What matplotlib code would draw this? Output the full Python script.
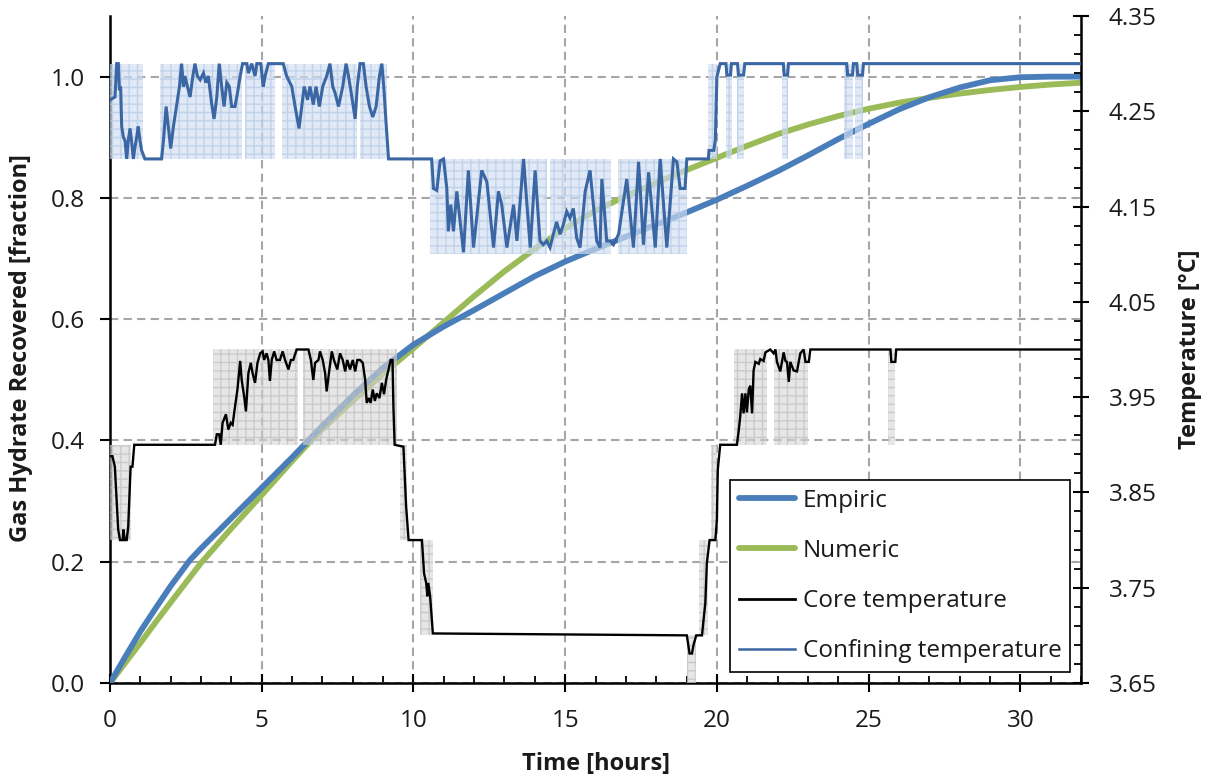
import matplotlib
matplotlib.use("Agg")
import matplotlib.pyplot as plt
from matplotlib.lines import Line2D
from matplotlib.ticker import FixedLocator, MultipleLocator, FormatStrFormatter

plt.rcParams['font.family'] = ['Open Sans', 'DejaVu Sans']
plt.rcParams['hatch.linewidth'] = 1.0

# ---------------- recovery curves (left axis) ----------------
emp_t = [0, 0.5, 1, 1.5, 2, 2.64, 3, 4, 5, 6, 6.5, 7, 8, 9, 10, 10.7, 11, 12, 13, 14,
         15, 16, 17, 18, 19, 20, 21, 22, 23, 24, 25, 26, 27, 28, 29, 30, 31, 32]
emp_frac = [0.0, 0.043, 0.085, 0.123, 0.16, 0.203, 0.222, 0.272, 0.322, 0.372, 0.398,
            0.424, 0.474, 0.52, 0.558, 0.579, 0.588, 0.615, 0.643, 0.671, 0.695, 0.716,
            0.736, 0.756, 0.776, 0.797, 0.82, 0.844, 0.87, 0.897, 0.922, 0.946, 0.966,
            0.982, 0.994, 0.999, 1.0, 1.0]

num_t = [0, 0.5, 1, 1.5, 2, 3, 4, 5, 6, 6.5, 7, 8, 9, 10, 11, 12, 13, 14, 15,
         16, 17, 18, 19, 20, 21, 22, 23, 24, 25, 26, 27, 28, 29, 30, 31, 32]
num_frac = [0.0, 0.033, 0.066, 0.1, 0.133, 0.198, 0.255, 0.31, 0.366, 0.393, 0.419,
            0.465, 0.51, 0.552, 0.595, 0.638, 0.679, 0.716, 0.75, 0.779, 0.803, 0.825,
            0.846, 0.866, 0.886, 0.905, 0.921, 0.935, 0.947, 0.957, 0.965, 0.972,
            0.978, 0.983, 0.987, 0.99]

# ---------------- temperatures (right axis, degC) ----------------
core_t = [0.0, 0.08, 0.16, 0.22, 0.27, 0.33, 0.42, 0.44, 0.49, 0.55, 0.60, 0.68, 0.74, 0.80,
          3.46, 3.52, 3.60, 3.65, 3.71, 3.82, 3.90, 3.98, 4.04, 4.12, 4.20, 4.29, 4.34, 4.42,
          4.48, 4.56, 4.64, 4.70, 4.78, 4.86, 4.95, 5.03, 5.08, 5.16, 5.22, 5.27, 5.33, 5.41,
          5.49, 5.60, 5.69, 5.77, 5.88, 5.96, 6.04, 6.15, 6.54, 6.62, 6.70, 6.76, 6.87, 6.92,
          7.01, 7.09, 7.14, 7.23, 7.31, 7.38, 7.49, 7.58, 7.67, 7.75, 7.82, 7.91, 8.00, 8.08,
          8.15, 8.24, 8.33, 8.41, 8.46, 8.53, 8.59, 8.66, 8.73, 8.79, 8.88, 8.96, 9.03, 9.10,
          9.18, 9.25, 9.31, 9.34, 9.38, 9.67, 9.76, 9.84, 10.28, 10.35, 10.42, 10.46, 10.49,
          10.55, 10.64, 19.01, 19.10, 19.18, 19.23, 19.32, 19.51, 19.56, 19.62, 19.67, 19.76,
          19.95, 20.00, 20.03, 20.11, 20.66, 20.72, 20.77, 20.83, 20.88, 20.94, 20.99, 21.05,
          21.10, 21.16, 21.21, 21.27, 21.38, 21.43, 21.54, 21.60, 21.76, 21.87, 21.93, 21.98,
          22.09, 22.20, 22.26, 22.31, 22.37, 22.42, 22.53, 22.64, 22.75, 22.86, 22.92, 23.03,
          23.08, 25.72, 25.75, 25.88, 25.91, 32.0]
core_T = [3.888, 3.888, 3.877, 3.842, 3.811, 3.800, 3.800, 3.811, 3.800, 3.800, 3.814, 3.877,
          3.877, 3.900, 3.900, 3.911, 3.911, 3.900, 3.923, 3.932, 3.916, 3.923, 3.921, 3.940,
          3.958, 3.988, 3.968, 3.951, 3.935, 3.975, 3.986, 3.975, 3.965, 3.986, 3.996, 3.998,
          3.989, 3.996, 3.989, 3.967, 3.989, 3.998, 3.989, 3.989, 3.998, 3.989, 3.979, 3.989,
          3.989, 4.000, 4.000, 3.989, 3.968, 3.986, 3.989, 3.998, 3.989, 3.975, 3.956, 3.979,
          3.998, 3.989, 3.979, 3.996, 3.989, 3.977, 3.989, 3.979, 3.989, 3.977, 3.989, 3.989,
          3.986, 3.968, 3.944, 3.949, 3.944, 3.958, 3.946, 3.954, 3.949, 3.965, 3.953, 3.968,
          3.979, 3.989, 3.989, 3.940, 3.900, 3.898, 3.835, 3.800, 3.800, 3.765, 3.755, 3.741,
          3.755, 3.741, 3.702, 3.700, 3.681, 3.681, 3.690, 3.700, 3.700, 3.716, 3.734, 3.776,
          3.800, 3.800, 3.821, 3.874, 3.900, 3.900, 3.915, 3.930, 3.954, 3.933, 3.954, 3.934,
          3.958, 3.962, 3.933, 3.978, 3.987, 3.985, 3.990, 3.988, 3.997, 4.000, 3.996, 4.000,
          3.987, 3.977, 3.997, 3.988, 3.987, 3.966, 3.987, 3.978, 3.977, 3.996, 4.000, 3.987,
          3.987, 4.000, 4.000, 3.987, 3.987, 4.000, 4.000]

conf_t = [0.0, 0.165, 0.22, 0.275, 0.31, 0.35, 0.385, 0.44, 0.495, 0.55, 0.60, 0.66, 0.71,
          0.77, 0.82, 0.88, 0.93, 0.99, 1.04, 1.15, 1.70, 1.76, 1.85, 1.92, 2.00, 2.09, 2.20,
          2.29, 2.36, 2.42, 2.47, 2.55, 2.64, 2.73, 2.80, 2.88, 2.97, 3.08, 3.16, 3.24, 3.35,
          3.43, 3.52, 3.60, 3.68, 3.76, 3.85, 3.93, 4.01, 4.12, 4.20, 4.29, 4.37, 4.51, 4.56,
          4.67, 4.78, 4.84, 4.97, 5.05, 5.11, 5.22, 5.71, 5.82, 5.99, 6.10, 6.23, 6.32, 6.40,
          6.51, 6.59, 6.70, 6.79, 6.90, 7.01, 7.14, 7.25, 7.34, 7.42, 7.53, 7.67, 7.78, 7.86,
          7.97, 8.08, 8.15, 8.24, 8.35, 8.44, 8.55, 8.66, 8.77, 8.88, 8.96, 9.03, 9.10, 9.18,
          10.60, 10.66, 10.77, 10.88, 10.99, 11.10, 11.15, 11.23, 11.32, 11.43, 11.54, 11.65,
          11.81, 11.98, 12.25, 12.42, 12.64, 12.80, 12.91, 13.08, 13.30, 13.41, 13.63, 13.74,
          13.85, 14.01, 14.17, 14.28, 14.39, 14.50, 14.61, 14.72, 14.83, 14.94, 15.05, 15.16,
          15.27, 15.38, 15.49, 15.66, 15.82, 15.93, 16.04, 16.15, 16.21, 16.37, 16.48, 16.59,
          16.76, 17.03, 17.25, 17.42, 17.58, 17.75, 17.97, 18.13, 18.35, 18.57, 18.68, 18.79,
          18.95, 19.01, 19.72, 19.74, 19.90, 19.95, 20.00, 20.11, 20.30, 20.33, 20.45, 20.48,
          20.68, 20.71, 20.88, 20.92, 22.19, 22.22, 22.33, 22.36, 24.28, 24.31, 24.47, 24.50,
          24.61, 24.64, 24.80, 24.83, 32.0]
conf_T = [4.262, 4.265, 4.300, 4.300, 4.272, 4.276, 4.234, 4.223, 4.219, 4.200, 4.219, 4.232,
          4.219, 4.200, 4.212, 4.223, 4.234, 4.219, 4.209, 4.200, 4.200, 4.219, 4.255, 4.234,
          4.211, 4.234, 4.257, 4.276, 4.300, 4.276, 4.287, 4.276, 4.265, 4.287, 4.300, 4.287,
          4.283, 4.290, 4.280, 4.287, 4.258, 4.242, 4.265, 4.300, 4.276, 4.255, 4.280, 4.276,
          4.255, 4.255, 4.269, 4.287, 4.300, 4.300, 4.290, 4.300, 4.287, 4.300, 4.300, 4.276,
          4.287, 4.300, 4.300, 4.287, 4.276, 4.255, 4.232, 4.255, 4.276, 4.262, 4.276, 4.257,
          4.276, 4.255, 4.276, 4.287, 4.300, 4.276, 4.269, 4.255, 4.276, 4.300, 4.287, 4.265,
          4.242, 4.276, 4.300, 4.300, 4.276, 4.255, 4.244, 4.255, 4.287, 4.300, 4.272, 4.237,
          4.200, 4.200, 4.169, 4.167, 4.198, 4.200, 4.169, 4.124, 4.152, 4.124, 4.166, 4.134,
          4.102, 4.188, 4.107, 4.188, 4.176, 4.107, 4.166, 4.152, 4.107, 4.152, 4.114, 4.200,
          4.152, 4.107, 4.188, 4.114, 4.110, 4.114, 4.107, 4.121, 4.134, 4.121, 4.131, 4.145,
          4.138, 4.148, 4.117, 4.107, 4.166, 4.188, 4.152, 4.114, 4.107, 4.179, 4.114, 4.114,
          4.110, 4.121, 4.179, 4.107, 4.197, 4.110, 4.186, 4.107, 4.200, 4.107, 4.200, 4.197,
          4.169, 4.169, 4.200, 4.200, 4.209, 4.209, 4.220, 4.286, 4.300, 4.300, 4.288, 4.288,
          4.300, 4.300, 4.288, 4.288, 4.300, 4.300, 4.288, 4.288, 4.300, 4.300, 4.288, 4.288,
          4.300, 4.300, 4.288, 4.288, 4.300, 4.300]

# sensor scatter ranges: (start h, end h, low degC, high degC)
core_band_t0 = [0.0, 3.40, 6.37, 9.55, 10.20, 19.00, 19.40, 19.80, 20.55, 21.87, 25.65]
core_band_t1 = [0.70, 6.20, 9.45, 9.80, 10.66, 19.30, 19.70, 20.00, 21.65, 23.00, 25.88]
core_band_lo = [3.80, 3.90, 3.90, 3.80, 3.70, 3.65, 3.70, 3.80, 3.90, 3.90, 3.90]
core_band_hi = [3.90, 4.00, 4.00, 3.90, 3.80, 3.70, 3.80, 3.90, 4.00, 4.00, 4.00]

conf_band_t0 = [0.0, 1.65, 4.45, 5.67, 8.24, 10.55, 14.50, 16.75, 19.70, 20.30, 20.65,
                22.15, 24.20, 24.55]
conf_band_t1 = [1.10, 4.35, 5.44, 8.14, 9.13, 14.40, 16.50, 19.00, 20.00, 20.50, 20.90,
                22.35, 24.50, 24.80]
conf_band_lo = [4.20, 4.20, 4.20, 4.20, 4.20, 4.10, 4.10, 4.10, 4.20, 4.20, 4.20,
                4.20, 4.20, 4.20]
conf_band_hi = [4.30, 4.30, 4.30, 4.30, 4.30, 4.20, 4.20, 4.20, 4.30, 4.30, 4.30,
                4.30, 4.30, 4.30]

x_ticks = [0, 5, 10, 15, 20, 25, 30]
frac_ticks = [0.0, 0.2, 0.4, 0.6, 0.8, 1.0]
temp_ticks = [3.65, 3.75, 3.85, 3.95, 4.05, 4.15, 4.25, 4.35]

labels = ['Empiric', 'Numeric', 'Core temperature', 'Confining temperature']

# ---------------- styling ----------------
C_EMP = '#4A7EBB'
C_NUM = '#9BBB59'
C_CORE = '#000000'
C_CONF = '#3A66A3'
C_GRID = '#A6A6A6'
TXT = '#1A1A1A'
FS = 17.5
FS_LAB = 17

fig = plt.figure(figsize=(12.08, 7.78), dpi=100)
ax = fig.add_axes([110 / 1208, 1 - 683 / 778, 971 / 1208, 667 / 778])
ax2 = ax.twinx()

ax.set_xlim(0, 32)
ax.set_ylim(0, 1.1)
ax2.set_ylim(3.65, 4.35)

ax.grid(True, which='major', color=C_GRID, linestyle=(0, (4, 2.5)), linewidth=1.5)
ax.set_axisbelow(True)

ax.plot(emp_t, emp_frac, color=C_EMP, lw=4.2, solid_capstyle='round', zorder=3)
ax.plot(num_t, num_frac, color=C_NUM, lw=4.2, solid_capstyle='round', zorder=2)

for t0, t1, lo, hi in zip(core_band_t0, core_band_t1, core_band_lo, core_band_hi):
    ax2.fill_between([t0, t1], lo, hi, facecolor='#D6D6D6', edgecolor='#B8B8B8',
                     hatch='++', linewidth=0, alpha=0.6, zorder=1)
for t0, t1, lo, hi in zip(conf_band_t0, conf_band_t1, conf_band_lo, conf_band_hi):
    ax2.fill_between([t0, t1], lo, hi, facecolor='#D0DEF0', edgecolor='#B0C8E6',
                     hatch='++', linewidth=0, alpha=0.65, zorder=1)

ax2.plot(core_t, core_T, color=C_CORE, lw=1.7, zorder=4, solid_joinstyle='miter')
ax2.plot(conf_t, conf_T, color=C_CONF, lw=2.2, zorder=4, solid_joinstyle='miter')

# spines
for a in (ax, ax2):
    a.spines['top'].set_visible(False)
    for s in ('left', 'right', 'bottom'):
        a.spines[s].set_linewidth(1.8)
        a.spines[s].set_color('black')
ax2.spines['left'].set_visible(False)
ax2.spines['bottom'].set_visible(False)
ax.spines['right'].set_visible(False)

# ticks
ax.xaxis.set_major_locator(FixedLocator(x_ticks))
ax.xaxis.set_minor_locator(MultipleLocator(1))
ax.yaxis.set_major_locator(FixedLocator(frac_ticks))
ax.yaxis.set_major_formatter(FormatStrFormatter('%.1f'))
ax.tick_params(axis='x', which='major', direction='inout', length=13, width=1.5,
               pad=12, labelsize=FS, labelcolor=TXT)
ax.tick_params(axis='x', which='minor', direction='in', length=5, width=1.3)
ax.tick_params(axis='y', which='major', direction='out', length=7, width=1.5,
               pad=11, labelsize=FS, labelcolor=TXT)

ax2.yaxis.set_major_locator(FixedLocator(temp_ticks))
ax2.yaxis.set_minor_locator(FixedLocator([3.65 + 0.02 * k for k in range(36)]))
ax2.yaxis.set_major_formatter(FormatStrFormatter('%.2f'))
ax2.tick_params(axis='y', which='major', direction='inout', length=12, width=1.5,
                pad=14, labelsize=FS, labelcolor=TXT)
ax2.tick_params(axis='y', which='minor', direction='in', length=5, width=1.3)

ax.set_xlabel('Time [hours]', fontsize=FS_LAB, fontweight='bold', color=TXT)
ax.set_ylabel('Gas Hydrate Recovered [fraction]', fontsize=FS_LAB, fontweight='bold',
              color=TXT)
ax2.set_ylabel('Temperature [°C]', fontsize=FS_LAB, fontweight='bold', color=TXT)
ax.xaxis.set_label_coords(0.5, -0.1034)
ax.yaxis.set_label_coords(-0.079, 0.502)
ax2.yaxis.set_label_coords(1.100, 0.50)

handles = [
    Line2D([], [], color=C_EMP, lw=4.2, solid_capstyle='round'),
    Line2D([], [], color=C_NUM, lw=4.2, solid_capstyle='round'),
    Line2D([], [], color=C_CORE, lw=2.0),
    Line2D([], [], color=C_CONF, lw=1.8),
]
leg = ax2.legend(handles, labels, loc='lower right', bbox_to_anchor=(0.9887, 0.0165),
                 borderaxespad=0, frameon=True, fancybox=False, fontsize=FS,
                 handlelength=2.3, handletextpad=0.33, labelspacing=1.08,
                 borderpad=0.35, framealpha=1)
leg.get_frame().set_edgecolor('black')
leg.get_frame().set_linewidth(1.2)
for t in leg.get_texts():
    t.set_color(TXT)
leg.set_zorder(10)

fig.savefig('out.png', dpi=100)
